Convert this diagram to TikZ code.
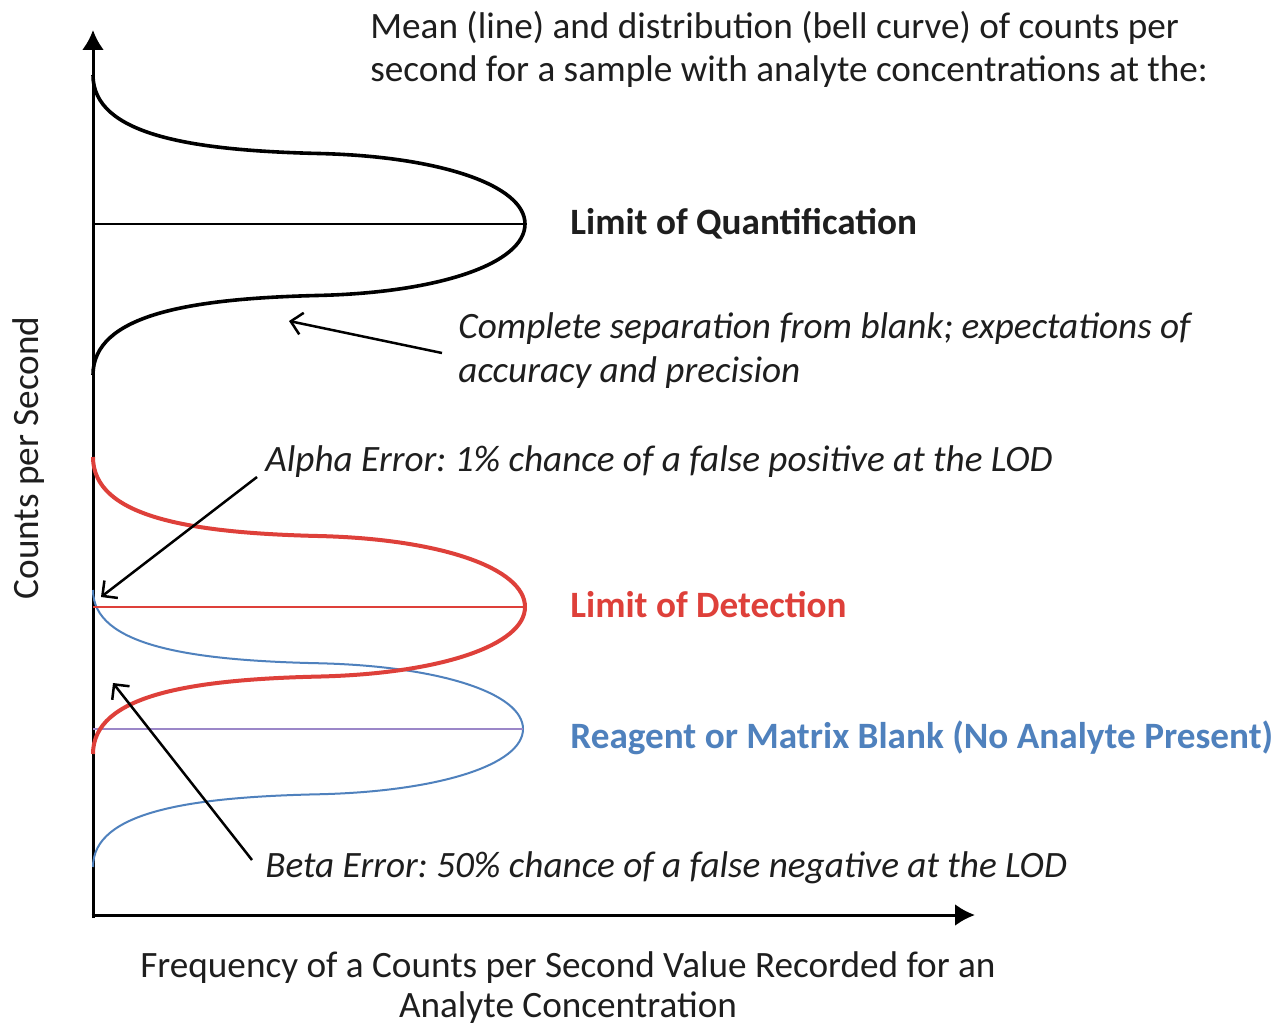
\documentclass[tikz,border=0pt]{standalone}
\usepackage{fontspec}
\setmainfont{Carlito}
\usetikzlibrary{arrows.meta}
\definecolor{lodred}{RGB}{222,64,58}
\definecolor{blankblue}{RGB}{79,129,189}
\definecolor{meanpurple}{RGB}{155,135,200}
\definecolor{txt}{RGB}{30,30,30}
\frenchspacing
% #1 style, #2 mean y, #3 top half-height, #4 bottom half-height, #5 peak x
\newcommand{\bellcurve}[5]{%
  \draw[#1] (93,#2-#3)
    .. controls (93,#2-0.6*#3) and ({93+0.2245*(#5-93)},#2-0.493*#3) .. ({93+0.525*(#5-93)},#2-0.473*#3)
    .. controls ({93+0.803*(#5-93)},#2-0.453*#3) and (#5,#2-0.26*#3) .. (#5,#2)
    .. controls (#5,#2+0.26*#4) and ({93+0.803*(#5-93)},#2+0.453*#4) .. ({93+0.525*(#5-93)},#2+0.473*#4)
    .. controls ({93+0.2245*(#5-93)},#2+0.493*#4) and (93,#2+0.6*#4) .. (93,#2+#4);}
\begin{document}
\begin{tikzpicture}[x=0.5pt,y=-0.5pt,
  lbl/.style={anchor=base west, inner sep=0pt, text=txt, font=\fontsize{18.6}{22}\selectfont},
  ilbl/.style={lbl, font=\fontsize{18.6}{22}\selectfont\itshape},
  blbl/.style={lbl, font=\fontsize{18.6}{22}\selectfont\bfseries},
  axis/.style={line width=1.5pt, -{Latex[length=10pt,width=11pt]}},
  note/.style={line width=1.25pt, black, -{Straight Barb[length=5.5pt,width=11pt]}},
  meanline/.style={line width=1.25pt}
]
\useasboundingbox (0,0) rectangle (1280,1027);
\fill[white] (0,0) rectangle (1280,1027);

% axes
\coordinate (origin) at (93,915);
\coordinate (ytop) at (93,30);
\coordinate (xend) at (975,915);
\draw[axis] (93,918) -- (ytop);
\draw[axis] (91.5,915) -- (xend);

% blue blank curve
\bellcurve{line width=1pt, blankblue}{729}{139}{138}{523}
\draw[meanline, meanpurple] (93,729) -- (523,729);

% red LOD curve
\bellcurve{line width=2pt, lodred}{607}{150}{147}{525}
\draw[meanline, lodred] (93,607) -- (525,607);

% black LOQ curve
\bellcurve{line width=1.8pt, black}{224}{149}{151}{525}
\draw[meanline, black] (93,224) -- (525,224);

% texts
\node[lbl] (title1) at (370,39) {Mean (line) and distribution (bell curve) of counts per};
\node[lbl] (title2) at (370,82) {second for a sample with analyte concentrations at the:};
\node[blbl] (loq) at (570,235) {Limit of Quantification};
\node[ilbl] (sep1) at (458,338) {Complete separation from blank; expectations of};
\node[ilbl] (sep2) at (458,382) {accuracy and precision};
\node[ilbl] (alpha) at (265,471) {Alpha Error: 1\% chance of a false positive at the LOD};
\node[blbl, text=lodred] (lod) at (570,617) {Limit of Detection};
\node[blbl, text=blankblue] (blank) at (570,748) {Reagent or Matrix Blank (No Analyte Present)};
\node[ilbl] (beta) at (265,877) {Beta Error: 50\% chance of a false negative at the LOD};
\node[lbl, anchor=base, rotate=90] (ylab) at (39,458) {Counts per Second};
\node[lbl, anchor=base] (xlab1) at (568,977) {Frequency of a Counts per Second Value Recorded for an};
\node[lbl, anchor=base] (xlab2) at (568,1017) {Analyte Concentration};

% annotation arrows
\coordinate (sepS) at (442,353);
\coordinate (sepE) at (289,321);
\coordinate (alphaS) at (257,477);
\coordinate (alphaE) at (101,597);
\coordinate (betaS) at (252,860);
\coordinate (betaE) at (113,683);
\draw[note] (sepS) -- (sepE);
\draw[note] (alphaS) -- (alphaE);
\draw[note] (betaS) -- (betaE);
\end{tikzpicture}
\end{document}
